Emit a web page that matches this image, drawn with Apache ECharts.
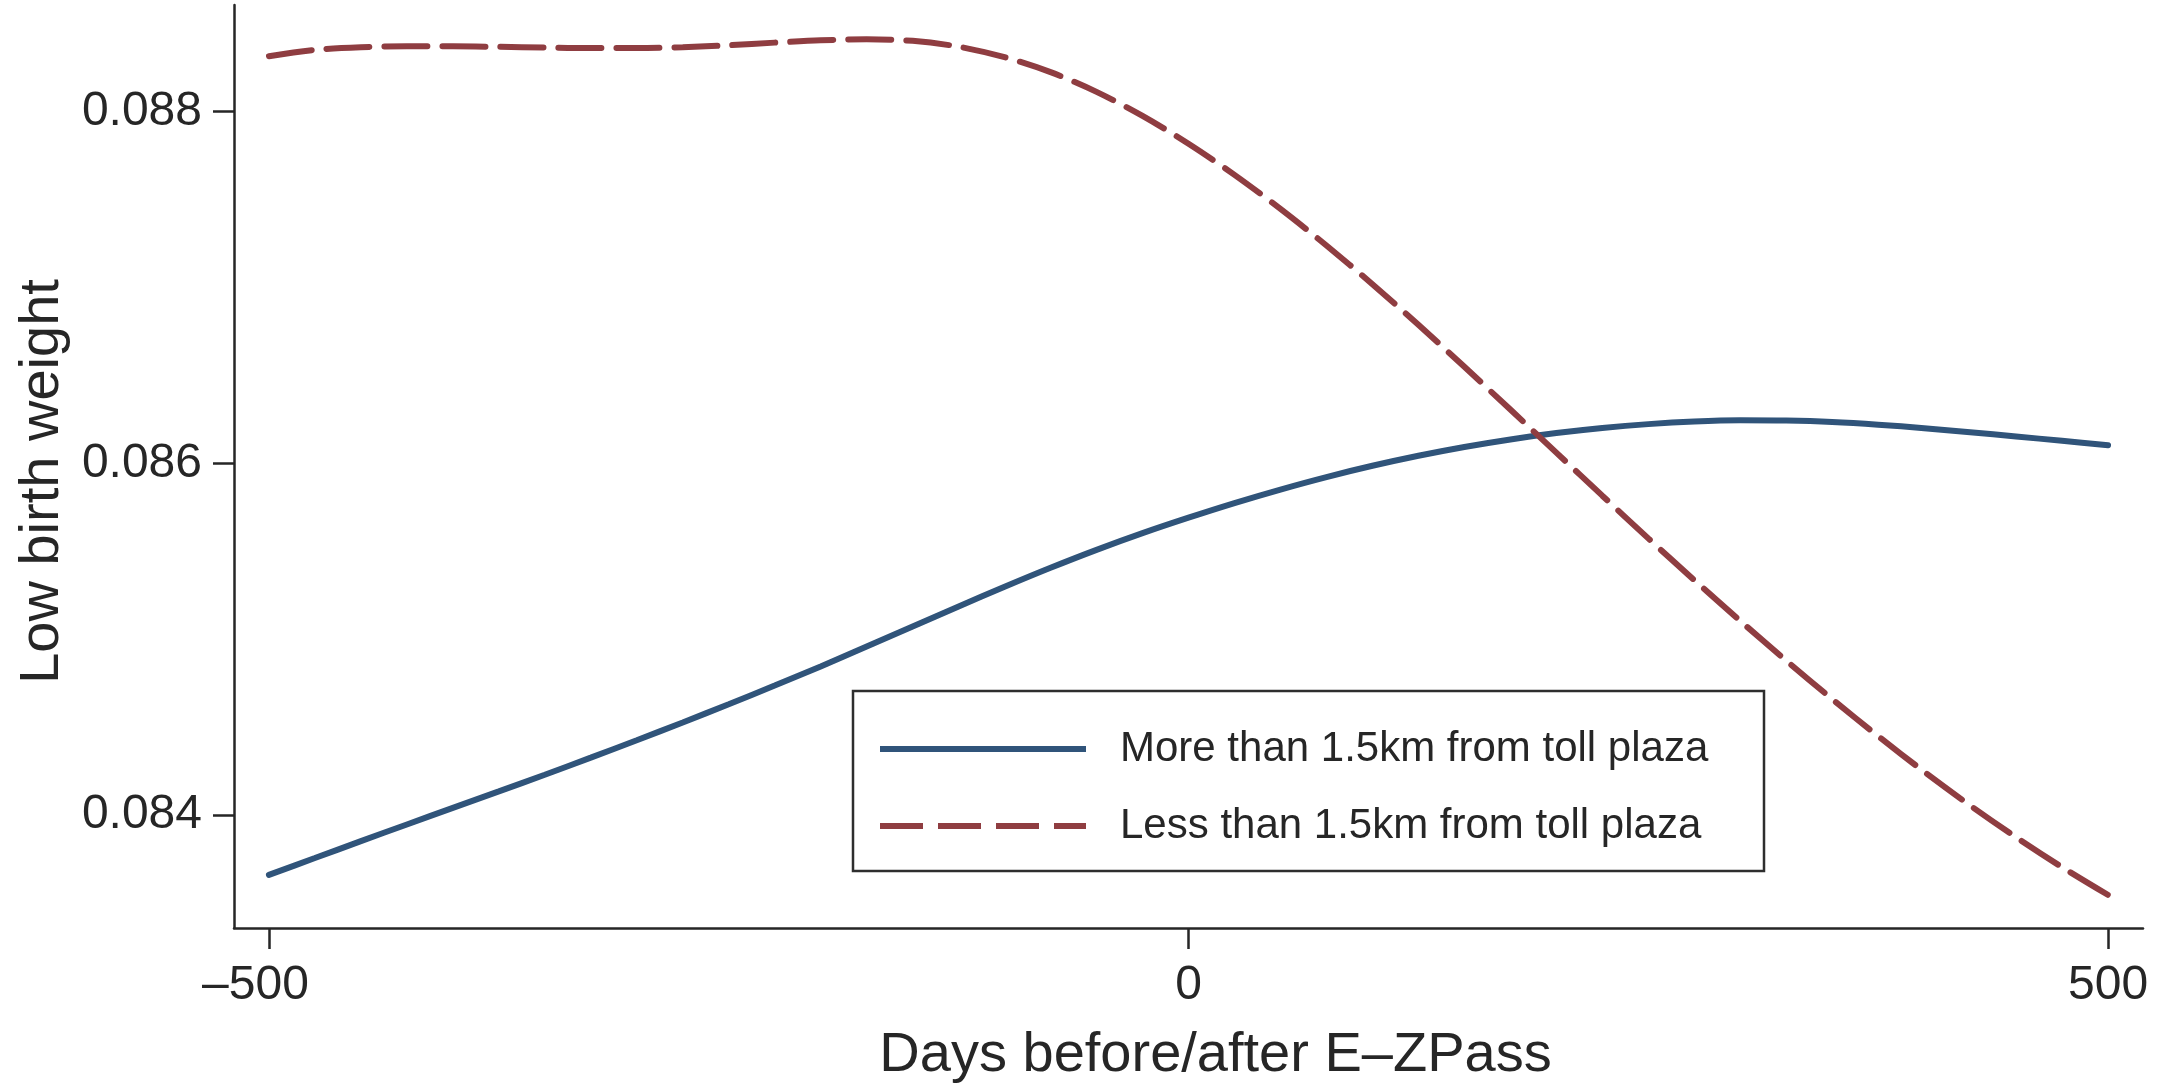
<!DOCTYPE html>
<html>
<head>
<meta charset="utf-8">
<title>Low birth weight around E-ZPass introduction</title>
<script src="https://cdn.jsdelivr.net/npm/echarts@6/dist/echarts.min.js"></script>
<style>
  html, body { margin: 0; padding: 0; background: #ffffff; }
  #chart { width: 2182px; height: 1090px; }
</style>
</head>
<body>
<div id="chart"></div>
<script>
// Days relative to E-ZPass introduction
const days = [
  -500, -475, -450, -425, -400, -375, -350, -325, -300, -275,
  -250, -225, -200, -175, -150, -125, -100, -75, -50, -25,
  0, 25, 50, 75, 100, 125, 150, 175, 200, 225,
  250, 275, 300, 325, 350, 375, 400, 425, 450, 475, 500
];

// Smoothed share of low-birth-weight births, mothers living far from a toll plaza
const farValues = [
  0.083659, 0.083755, 0.083851, 0.083946, 0.084040, 0.084134, 0.084229, 0.084326, 0.084425, 0.084526,
  0.084630, 0.084736, 0.084845, 0.084958, 0.085072, 0.085186, 0.085298, 0.085406, 0.085508, 0.085603,
  0.085691, 0.085774, 0.085851, 0.085922, 0.085986, 0.086043, 0.086093, 0.086136, 0.086172, 0.086201,
  0.086223, 0.086238, 0.086245, 0.086243, 0.086235, 0.086220, 0.086200, 0.086177, 0.086153, 0.086128, 0.086103
];

// Same measure, mothers living close to a toll plaza
const nearValues = [
  0.088316, 0.088352, 0.088367, 0.088372, 0.088372, 0.088369, 0.088365, 0.088362, 0.088362, 0.088367,
  0.088378, 0.088393, 0.088406, 0.088412, 0.088403, 0.088370, 0.088310, 0.088225, 0.088113, 0.087976,
  0.087818, 0.087641, 0.087447, 0.087239, 0.087019, 0.086788, 0.086549, 0.086306, 0.086061, 0.085816,
  0.085573, 0.085336, 0.085104, 0.084878, 0.084659, 0.084448, 0.084246, 0.084054, 0.083873, 0.083703, 0.083545
];

const seriesNames = ['More than 1.5km from toll plaza', 'Less than 1.5km from toll plaza'];
const xTicks = [-500, 0, 500];
const yTicks = [0.084, 0.086, 0.088];

const FONT = '"Liberation Sans", Arial, Helvetica, sans-serif';
const INK = '#262626';
const BLUE = '#30547a';
const RED = '#8f3d41';
const DASH = [43, 15];

const pairs = (vals) => days.map((d, i) => [d, vals[i]]);

const chart = echarts.init(document.getElementById('chart'), null, { renderer: 'canvas' });

chart.setOption({
  backgroundColor: '#ffffff',
  animation: false,
  textStyle: { fontFamily: FONT },
  grid: {
    left: 234, right: 39, top: 5, bottom: 162,
    containLabel: false,
    outerBoundsMode: 'none'
  },
  legend: {
    data: seriesNames,
    orient: 'vertical',
    left: 853,
    top: 691,
    padding: [33, 44, 20, 24],
    itemWidth: 206,
    itemHeight: 14,
    itemGap: 27,
    borderColor: '#2e2e2e',
    borderWidth: 2.5,
    backgroundColor: '#ffffff',
    itemStyle: { opacity: 0, borderWidth: 0 },
    lineStyle: { width: 6, cap: 'butt' },
    textStyle: {
      fontFamily: FONT,
      fontSize: 42,
      color: INK,
      lineHeight: 50,
      width: 600,
      padding: [0, 0, 0, 29]
    }
  },
  xAxis: {
    type: 'value',
    min: -519,
    max: 519,
    name: 'Days before/after E–ZPass',
    nameLocation: 'middle',
    nameGap: 100,
    nameTextStyle: {
      fontFamily: FONT, fontSize: 56, color: INK,
      padding: [0, 0, 0, 54]
    },
    splitLine: { show: false },
    axisLine: { onZero: false, lineStyle: { color: INK, width: 2.5 } },
    axisTick: {
      customValues: xTicks,
      length: 21,
      lineStyle: { color: INK, width: 2.5 }
    },
    axisLabel: {
      customValues: xTicks,
      margin: 34,
      fontFamily: FONT,
      fontSize: 48,
      color: INK,
      formatter: (v) => v < 0 ? '{neg|–' + Math.abs(v) + '}' : String(v),
      rich: {
        neg: { fontFamily: FONT, fontSize: 48, color: INK, padding: [0, 27, 0, 0] }
      }
    }
  },
  yAxis: {
    type: 'value',
    min: 0.083357,
    max: 0.088607,
    name: 'Low birth weight',
    nameLocation: 'middle',
    nameGap: 163,
    nameTextStyle: {
      fontFamily: FONT, fontSize: 56, color: INK,
      padding: [0, 30, 0, 0]
    },
    splitLine: { show: false },
    axisLine: { show: true, onZero: false, lineStyle: { color: INK, width: 2.5 } },
    axisTick: {
      show: true,
      customValues: yTicks,
      length: 21,
      lineStyle: { color: INK, width: 2.5 }
    },
    axisLabel: {
      customValues: yTicks,
      margin: 32,
      fontFamily: FONT,
      fontSize: 48,
      color: INK,
      formatter: (v) => v.toFixed(3)
    }
  },
  series: [
    {
      name: seriesNames[0],
      type: 'line',
      data: pairs(farValues),
      symbol: 'none',
      smooth: 0.3,
      color: BLUE,
      lineStyle: { color: BLUE, width: 6, cap: 'round' },
      z: 2
    },
    {
      name: seriesNames[1],
      type: 'line',
      data: pairs(nearValues),
      symbol: 'none',
      smooth: 0.3,
      color: RED,
      lineStyle: { color: RED, width: 6, type: DASH, cap: 'round' },
      z: 3
    }
  ]
});
</script>
</body>
</html>
